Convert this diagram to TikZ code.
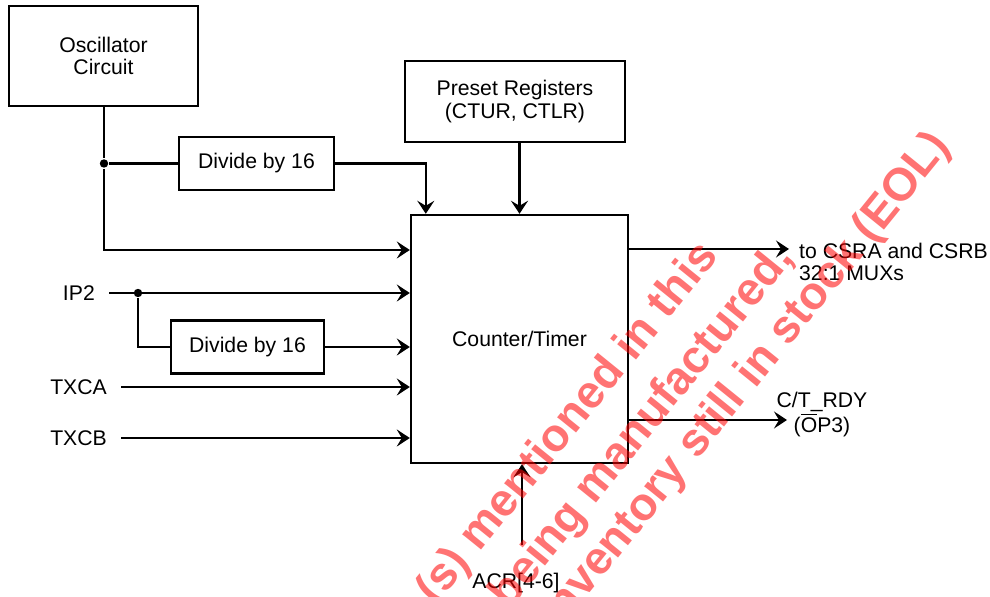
\documentclass[tikz,border=0pt]{standalone}
\usepackage{fontspec}
\setmainfont{Liberation Sans}
\usetikzlibrary{
  positioning,
  calc,
  arrows.meta,
}
\tikzset{
  x=0.5pt,
  y=-0.5pt,
  >={Stealth[length=6.5pt,width=8.5pt,inset=2.5pt]},
  txt/.style={
    font=\fontsize{10.6pt}{11.2pt}\selectfont,
    align=center,
  },
  block/.style={
    txt,
    rectangle,
    draw,
    line width=1.2pt,
    inner sep=0pt,
  },
  lbl/.style={
    txt,
    inner sep=3.5pt,
  },
  inlbl/.style={
    txt,
    left,
    inner sep=6.5pt,
  },
  dot/.style={
    circle,
    fill,
    inner sep=0pt,
    minimum size=4.2pt,
  },
  stamp/.style={
    font=\fontsize{23pt}{23pt}\selectfont\bfseries,
    text=red,
    text opacity=0.55,
    rotate=51,
    anchor=base east,
    inner sep=0pt,
  },
}

\begin{document}
\begin{tikzpicture}[line width=1.2pt]
  \useasboundingbox (0,0) rectangle (990,597);

  % blocks
  \node[block, minimum width=94.5pt, minimum height=50pt]   (osc)    at (103.5,56)  {Oscillator\\Circuit};
  \node[block, minimum width=77.5pt, minimum height=26.5pt] (divA)   at (256.5,163.5) {Divide by 16};
  \node[block, minimum width=110pt,  minimum height=40.5pt] (preset) at (515,101.5) {Preset Registers\\(CTUR, CTLR)};
  \node[block, minimum width=108.5pt, minimum height=124pt] (ctr)    at (519.5,339) {Counter/Timer};
  \node[block, minimum width=76.5pt, minimum height=26.5pt] (divB)   at (247.5,347) {Divide by 16};

  % inputs
  \node[inlbl] (ip2)  at (109,293) {IP2};
  \node[inlbl] (txca) at (121,387) {TXCA};
  \node[inlbl] (txcb) at (121,438) {TXCB};
  \node[lbl]   (acr)  at (516,583) {ACR[4-6]};
  \coordinate (acrin) at (522,545);

  % outputs
  \coordinate (outA) at (789,249);
  \coordinate (outB) at (787,420);
  \node[lbl, align=left, anchor=north west] (csr) at (791,235) {to CSRA and CSRB\\32:1 MUXs};
  \node[lbl] (rdy) at (822,414.5) {C/T\_RDY\\ ($\overline{\hbox{O}}$P3)};

  % junctions
  \node[dot] (jA) at (104,163.5) {};
  \node[dot] (jB) at (138,293) {};

  \draw (osc.south -| jA) -- (jA) -- (divA.west);
  \draw[->] (jA) |- (ctr.west |- 0,250);
  \draw[->] (divA.east) -| ([xshift=8pt]ctr.north west);
  \draw[->] (preset.south -| ctr.north) -- (ctr.north);

  \draw[->] (ip2.east) -- (ip2.east -| ctr.west);
  \draw (jB) |- (divB.west);
  \draw[->] (divB.east) -- (divB.east -| ctr.west);
  \draw[->] (txca.east) -- (txca.east -| ctr.west);
  \draw[->] (txcb.east) -- (txcb.east -| ctr.west);
  \draw[->] (acrin) -- (acrin |- ctr.south);

  \draw[->] (ctr.east |- outA) -- (outA);
  \draw[->] (ctr.east |- outB) -- (outB);

  % watermark
  \begin{scope}
    \clip (0,0) rectangle (990,597);
    \node[stamp] (wmA) at (720,256) {(s) mentioned in this};
    \node[stamp] (wmB) at (795,258) {being manufactured,};
    \node[stamp] (wmC) at (952,146) {inventory still in stock (EOL)};
  \end{scope}
\end{tikzpicture}
\end{document}
